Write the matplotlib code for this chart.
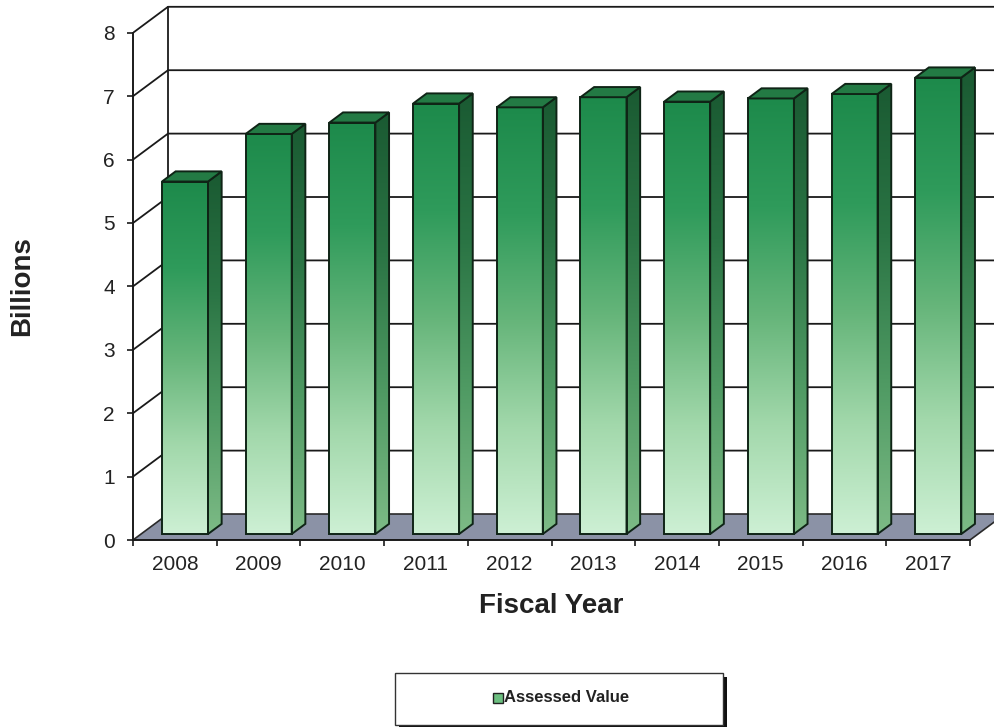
import numpy as np
import matplotlib.pyplot as plt
from matplotlib.patches import Polygon, Rectangle
from matplotlib.colors import LinearSegmentedColormap

plt.rcParams['font.family'] = ['Liberation Sans', 'DejaVu Sans']

years = ['2008', '2009', '2010', '2011', '2012', '2013', '2014', '2015', '2016', '2017']
assessed = [5.56, 6.31, 6.49, 6.79, 6.73, 6.89, 6.82, 6.87, 6.94, 7.20]
yticks = [0, 1, 2, 3, 4, 5, 6, 7, 8]
series_name = 'Assessed Value'

# fake 3d: screen offset for one unit of depth
DX, DY = 0.418, 0.41
Z0, Z1 = 0.23, 0.62          # front / back depth of the columns
BAR_L, BAR_W = 0.25, 0.55

front_cmap = LinearSegmentedColormap.from_list(
    'front', ['#cdf0d4', '#a2d8ab', '#66b57a', '#2f9b5b', '#1d8a4b'])
side_cmap = LinearSegmentedColormap.from_list(
    'side', ['#7dbb86', '#4f9a63', '#2a7444', '#1a5a32'])
grad = np.linspace(0, 1, 256).reshape(-1, 1)


def proj(x, y, z):
    return x + z * DX, y + z * DY


fig = plt.figure(figsize=(9.94, 7.27), dpi=100)
ax = fig.add_axes([133 / 994, 187 / 727, 861 / 994, 540 / 727])
n = len(years)
ymax = yticks[-1]

# side wall + back wall gridlines
for y in yticks[1:]:
    pts = [proj(0, y, 0), proj(0, y, 1), proj(n + 1, y, 1)]
    ax.plot([p[0] for p in pts], [p[1] for p in pts], color='#1a1a1a', lw=1.3, zorder=1)
bx = [proj(0, 0, 1)[0], proj(0, ymax, 1)[0]]
by = [proj(0, 0, 1)[1], proj(0, ymax, 1)[1]]
ax.plot(bx, by, color='#1a1a1a', lw=1.3, zorder=1)

# floor
floor = Polygon([proj(0, 0, 0), proj(n, 0, 0), proj(n, 0, 1), proj(0, 0, 1)],
                closed=True, facecolor='#8b92a6', edgecolor='#2a2a2a', lw=1.2, zorder=2)
ax.add_patch(floor)

edge = '#0f2416'
for i, v in enumerate(assessed):
    xl = i + BAR_L
    xr = xl + BAR_W
    # front face
    fx0, fy0 = proj(xl, 0, Z0)
    fx1, fy1 = proj(xr, v, Z0)
    ax.imshow(grad, cmap=front_cmap, origin='lower', aspect='auto',
              extent=[fx0, fx1, fy0, fy1], zorder=3, interpolation='bilinear')
    ax.add_patch(Rectangle((fx0, fy0), fx1 - fx0, fy1 - fy0, fill=False,
                           edgecolor=edge, lw=1.4, zorder=4))
    # right side face
    side_pts = [proj(xr, 0, Z0), proj(xr, v, Z0), proj(xr, v, Z1), proj(xr, 0, Z1)]
    side = Polygon(side_pts, closed=True, fill=False, edgecolor=edge, lw=1.4, zorder=4)
    ax.add_patch(side)
    im = ax.imshow(grad, cmap=side_cmap, origin='lower', aspect='auto',
                   extent=[side_pts[0][0], side_pts[2][0], side_pts[0][1], side_pts[2][1]],
                   zorder=3, interpolation='bilinear')
    im.set_clip_path(side)
    # top face
    top = Polygon([proj(xl, v, Z0), proj(xr, v, Z0), proj(xr, v, Z1), proj(xl, v, Z1)],
                  closed=True, facecolor='#237a44', edgecolor=edge, lw=1.4, zorder=4)
    ax.add_patch(top)

ax.set_xlim(0, 861 / 83.7)
ax.set_ylim(0, 540 / 63.4)

for s in ['top', 'right']:
    ax.spines[s].set_visible(False)
ax.spines['left'].set_bounds(0, ymax)
ax.spines['bottom'].set_bounds(0, n)
for s in ['left', 'bottom']:
    ax.spines[s].set_linewidth(1.4)
    ax.spines[s].set_color('#1a1a1a')
    ax.spines[s].set_zorder(5)

ax.set_yticks(yticks)
ax.set_yticklabels([str(t) for t in yticks])
ax.set_xticks(range(n + 1))
ax.set_xticklabels([])
ax.set_xticks([i + 0.5 for i in range(n)], minor=True)
ax.set_xticklabels(years, minor=True)
ax.tick_params(axis='y', length=4, width=1.2, color='#1a1a1a', pad=9,
               labelsize=15, labelcolor='#222222')
ax.tick_params(axis='x', which='major', length=4, width=1.2, color='#1a1a1a')
ax.tick_params(axis='x', which='minor', length=0, pad=11, labelsize=15,
               labelcolor='#222222')

ax.text(n / 2, -1.04, 'Fiscal Year', ha='center', va='center', fontsize=20,
        fontweight='bold', color='#222222')
fig.text(22.5 / 994, 1 - 286 / 727, 'Billions', rotation=90, ha='center', va='center',
         fontsize=20, fontweight='bold', color='#222222')

# legend box with drop shadow
lx, ly, lw_, lh = 395 / 994, 2 / 727, 328 / 994, 52 / 727
fig.patches.append(Rectangle((lx + 4 / 994, ly - 4 / 727), lw_, lh, transform=fig.transFigure,
                             facecolor='#111111', edgecolor='none', zorder=1))
fig.patches.append(Rectangle((lx, ly), lw_, lh, transform=fig.transFigure,
                             facecolor='white', edgecolor='#333333', lw=1.0, zorder=2))
fig.patches.append(Rectangle((493 / 994, 1 - 703 / 727), 10 / 994, 10 / 727,
                             transform=fig.transFigure, facecolor='#6cbf80',
                             edgecolor='#222222', lw=1.0, zorder=3))
fig.text(504 / 994, 1 - 698 / 727, series_name, ha='left', va='center', fontsize=12,
         fontweight='bold', color='#222222')

fig.savefig('out.png', dpi=100)
